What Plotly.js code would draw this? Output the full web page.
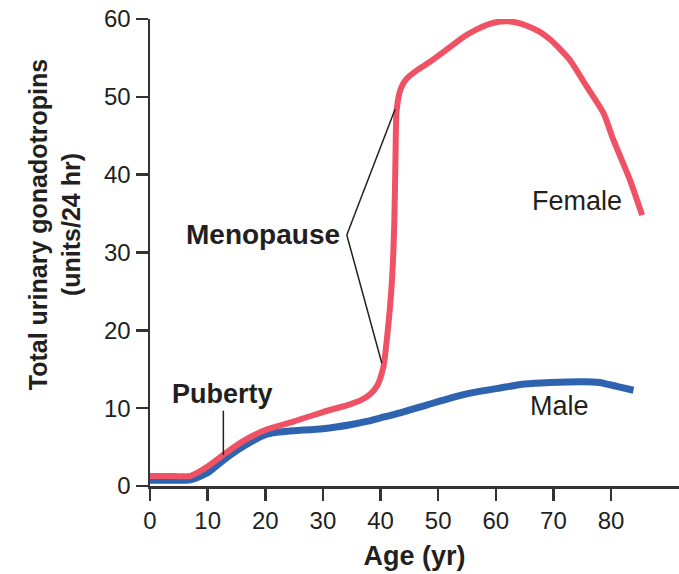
<!DOCTYPE html>
<html>
<head>
<meta charset="utf-8">
<script src="https://cdn.plot.ly/plotly-3.0.1.min.js"></script>
<style>html,body{margin:0;padding:0;background:#fff;}#chart{width:679px;height:574px;}</style>
</head>
<body>
<div id="chart"></div>
<script>
// Female curve (age in years, units/24 hr)
const femaleAge = [0, 3, 7, 10, 12.7, 16, 20, 25, 30, 34.7, 36.5, 38.2, 39.5, 40.5, 41.1, 42.0, 42.4, 42.6, 42.8, 43.5, 44.5, 46.3, 48.6, 51, 54.4, 56.8, 58.8, 60.5, 62, 63.6, 65.5, 67.5, 69.4, 71.2, 72.9, 75.8, 78.7, 80.4, 83.3, 85.4];
const femaleVal = [1.3, 1.3, 1.3, 2.5, 4.0, 5.7, 7.2, 8.3, 9.5, 10.5, 11.0, 11.8, 13.0, 15.3, 18.8, 26.5, 34, 42, 48.3, 51.0, 52.3, 53.4, 54.5, 55.8, 57.7, 58.7, 59.35, 59.65, 59.7, 59.55, 59.1, 58.4, 57.4, 56.1, 54.7, 51.3, 47.9, 44.5, 39.3, 34.8];
// Male curve
const maleAge = [0, 3, 7, 10, 12.7, 16, 20, 22, 25, 30, 35, 37.6, 40, 43.4, 48, 52.1, 56, 60.8, 65, 69.4, 75.2, 78, 81, 83.9];
const maleVal = [0.75, 0.75, 0.8, 1.7, 3.3, 5.0, 6.6, 6.9, 7.1, 7.35, 7.9, 8.3, 8.75, 9.4, 10.4, 11.3, 12.0, 12.6, 13.1, 13.3, 13.4, 13.3, 12.8, 12.3];
// Axis ticks
const xTicks = [0, 10, 20, 30, 40, 50, 60, 70, 80];
const yTicks = [0, 10, 20, 30, 40, 50, 60];
// Annotation pointers (data units)
const pubertyLineX = [12.73, 12.73];
const pubertyLineY = [9.67, 3.98];
const menoVertex = [34.15, 32.25];
const menoUpper = [42.53, 48.4];
const menoLower = [40.23, 15.77];

const FONT = "Liberation Sans, Arial, Helvetica, sans-serif";
const TXT = "#231f20";

const traces = [
  {x: maleAge, y: maleVal, mode: "lines", name: "Male",
   line: {color: "#2e63b0", width: 7, shape: "spline", smoothing: 0.6}, hoverinfo: "skip"},
  {x: femaleAge, y: femaleVal, mode: "lines", name: "Female",
   line: {color: "#ee5264", width: 6, shape: "spline", smoothing: 0.6}, hoverinfo: "skip"}
];

const layout = {
  width: 679, height: 574,
  margin: {l: 150, r: 0, t: 19, b: 88, pad: 0},
  paper_bgcolor: "#fff", plot_bgcolor: "#fff",
  showlegend: false,
  font: {family: FONT, color: TXT, size: 24},
  xaxis: {
    range: [0, 91.8], tickvals: xTicks, ticktext: xTicks.map(String),
    showgrid: false, zeroline: false, showline: true, linecolor: "#333", linewidth: 2.5,
    ticks: "outside", ticklen: 12, tickwidth: 2.5, tickcolor: "#333",
    tickfont: {size: 24, color: TXT, family: FONT},
    title: {text: "<b>Age (yr)</b>", font: {size: 27, color: TXT, family: FONT}, standoff: 13}
  },
  yaxis: {
    range: [0, 60], tickvals: yTicks, ticktext: yTicks.map(String),
    showgrid: false, zeroline: false, showline: true, linecolor: "#333", linewidth: 2.5,
    ticks: "outside", ticklen: 12, tickwidth: 2.5, tickcolor: "#333",
    tickfont: {size: 24, color: TXT, family: FONT}
  },
  shapes: [
    {type: "line", xref: "x", yref: "y", x0: pubertyLineX[0], y0: pubertyLineY[0], x1: pubertyLineX[1], y1: pubertyLineY[1], line: {color: "#222", width: 1.5}},
    {type: "line", xref: "x", yref: "y", x0: menoVertex[0], y0: menoVertex[1], x1: menoUpper[0], y1: menoUpper[1], line: {color: "#222", width: 1.5}},
    {type: "line", xref: "x", yref: "y", x0: menoVertex[0], y0: menoVertex[1], x1: menoLower[0], y1: menoLower[1], line: {color: "#222", width: 1.5}}
  ],
  annotations: [
    {text: "<b>Total urinary gonadotropins</b><br><b>(units/24 hr)</b>", xref: "paper", yref: "paper", x: -0.179, y: 0.559, xanchor: "center", yanchor: "middle", textangle: -90, showarrow: false, font: {size: 25, color: TXT, family: FONT}},
    {text: "<b>Menopause</b>", xref: "x", yref: "y", x: 33.3, y: 32.25, xanchor: "right", yanchor: "middle", showarrow: false, font: {size: 28, color: TXT, family: FONT}},
    {text: "<b>Puberty</b>", xref: "x", yref: "y", x: 12.6, y: 11.8, xanchor: "center", yanchor: "middle", showarrow: false, font: {size: 27, color: TXT, family: FONT}},
    {text: "Female", xref: "x", yref: "y", x: 74.1, y: 36.6, xanchor: "center", yanchor: "middle", showarrow: false, font: {size: 27, color: TXT, family: FONT}},
    {text: "Male", xref: "x", yref: "y", x: 71.0, y: 10.3, xanchor: "center", yanchor: "middle", showarrow: false, font: {size: 27, color: TXT, family: FONT}}
  ]
};

Plotly.newPlot("chart", traces, layout, {staticPlot: true, displayModeBar: false});
</script>
</body>
</html>
